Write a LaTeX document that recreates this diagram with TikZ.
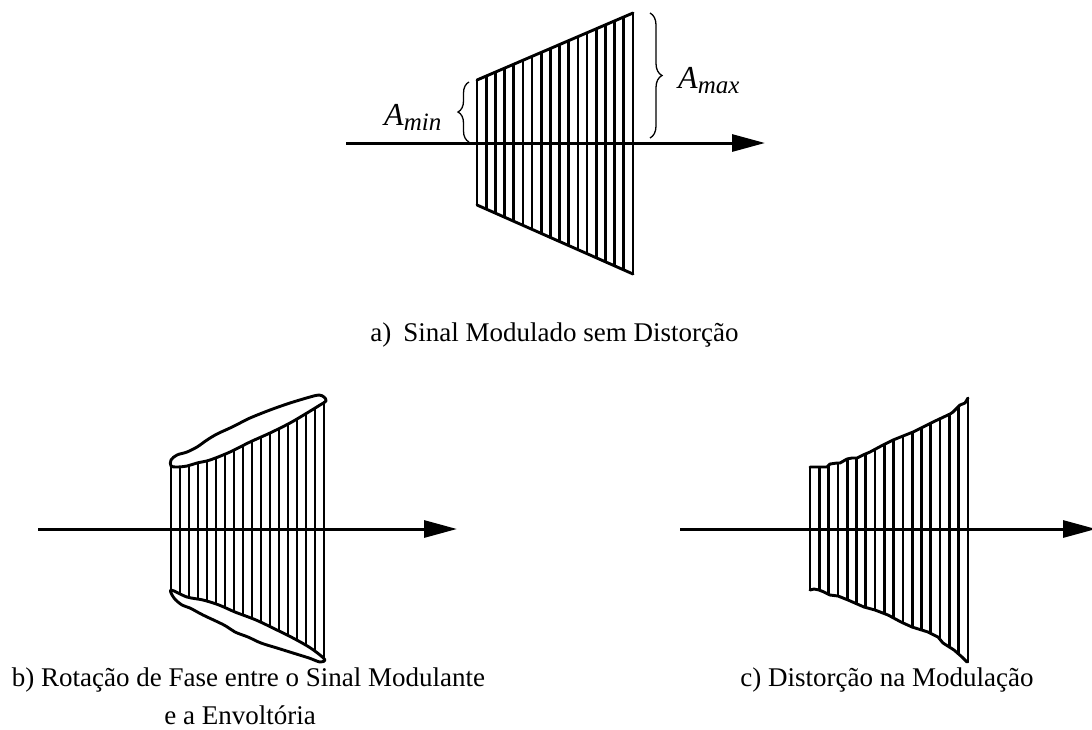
\documentclass[tikz,border=0pt]{standalone}
\usepackage{fontspec}
\setmainfont{Liberation Serif}
\usetikzlibrary{arrows.meta,decorations.pathreplacing}
\begin{document}
\begin{tikzpicture}[x=1pt,y=-1pt,
  axis/.style={line width=3pt,-{Triangle[length=33pt,width=17pt]}},
  hatch/.style={line width=2.7pt},
  edge/.style={line width=2.9pt,line join=round,line cap=round},
  brc/.style={line width=1.3pt,decorate,decoration={brace,amplitude=#1}},
  captxt/.style={font=\fontsize{27}{30}\selectfont,inner sep=0pt,anchor=base},
  lbl/.style={inner sep=0pt,anchor=base west,font=\fontsize{32}{32}\selectfont\itshape},
]
\useasboundingbox (0,0) rectangle (1092,729);

% ---------- (a) ----------
\coordinate (a0) at (346,143);
\coordinate (a1) at (765,143);
\begin{scope}
  \clip (470,83) -- (640,10) -- (640,277) -- (470,202) -- cycle;
  \foreach \i in {0,...,17} { \draw[hatch] ({477+\i*156/17},0) -- ++(0,300); }
\end{scope}
\coordinate (tl) at (477,80);
\coordinate (tr) at (633,13);
\coordinate (bl) at (477,205);
\coordinate (br) at (633,274);
\draw[edge] (tl) -- (tr);
\draw[edge] (bl) -- (br);
\draw[axis] (a0) -- (a1);

\coordinate (bminA) at (469,142);
\coordinate (bminB) at (469,82);
\draw[brc=11pt] (bminA) -- (bminB);
\coordinate (bmaxA) at (650,13);
\coordinate (bmaxB) at (650,138);
\draw[brc=12pt] (bmaxA) -- (bmaxB);

\node[lbl] (amin) at (384,125) {A\raisebox{-5pt}{\fontsize{25}{25}\selectfont min}};
\node[lbl] (amax) at (678,88) {A\raisebox{-5pt}{\fontsize{25}{25}\selectfont max}};

\node[captxt] (capa) at (554.5,341) {a)\hspace{0.45em}Sinal Modulado sem Distorção};

% ---------- (b) ----------
\coordinate (b0) at (38,529);
\coordinate (b1) at (457,529);
\begin{scope}
  \clip plot[smooth] coordinates {(165,467) (171,466) (187,466) (197,463) (210,460) (230,452) (250,442) (270,433) (290,423) (307,413) (317,407) (324,401) (330,398)}
    -- (330,662)
    -- plot[smooth] coordinates {(324,658) (309,647) (293,638) (277,630) (256,620) (235,612) (219,605) (203,600) (187,597) (171,590) (165,589)}
    -- cycle;
  \foreach \i in {0,...,17} { \draw[hatch] ({171+\i*153/17},380) -- ++(0,300); }
\end{scope}
\draw[edge] plot[smooth cycle,tension=0.55] coordinates {(171,466) (171,460) (177,455) (187,452) (197,447) (207,440) (217,434) (230,428) (240,423) (250,418) (270,410) (290,403) (310,397) (319,395) (324,397) (326,401) (320,405) (307,413) (290,423) (270,433) (250,442) (230,452) (210,460) (197,463) (187,466) (177,467)};
\draw[edge] plot[smooth cycle,tension=0.55] coordinates {(171,590) (187,597) (203,600) (219,605) (235,612) (256,620) (277,630) (293,638) (309,647) (320,655) (325,660) (320,662) (309,658) (293,653) (277,648) (261,643) (248,637) (235,632) (224,625) (203,615) (190,608) (182,605) (174,598)};
\draw[axis] (b0) -- (b1);

\node[captxt] (capb1) at (248.5,686) {b) Rotação de Fase entre o Sinal Modulante};
\node[captxt] (capb2) at (240,724) {e a Envoltória};

% ---------- (c) ----------
\coordinate (c0) at (680,529);
\coordinate (c1) at (1096,529);
\begin{scope}
  \clip (805,467) -- (810,467) -- (827,467) -- (830,464) -- (837,463) -- (840,463) -- (847,459) -- (852,458) -- (857,458) -- (863,455) -- (870,452) -- (883,445) -- (893,440) -- (903,436) -- (913,432) -- (923,427) -- (933,422) -- (950,414) -- (953,412) -- (960,405) -- (965,403) -- (968,398) -- (973,396)
    -- (973,665) -- (967,662) -- (962,657) -- (954,650) -- (943,643) -- (938,637) -- (928,632) -- (912,627) -- (901,622) -- (888,615) -- (875,610) -- (864,607) -- (848,600) -- (838,596) -- (830,595) -- (824,592) -- (819,590) -- (814,589) -- (810,590) -- (805,590) -- cycle;
  \foreach \i in {0,...,17} { \draw[hatch] ({810+\i*158/17},380) -- ++(0,300); }
\end{scope}
\draw[edge] (810,467) -- (827,467) -- (830,464) -- (837,463) -- (840,463) -- (847,459) -- (852,458) -- (857,458) -- (863,455) -- (870,452) -- (883,445) -- (893,440) -- (903,436) -- (913,432) -- (923,427) -- (933,422) -- (950,414) -- (953,412) -- (960,405) -- (965,403) -- (968,398);
\draw[edge] (810,590) -- (814,589) -- (819,590) -- (824,592) -- (830,595) -- (838,596) -- (848,600) -- (864,607) -- (875,610) -- (888,615) -- (901,622) -- (912,627) -- (928,632) -- (938,637) -- (943,643) -- (954,650) -- (962,657) -- (967,662);
\draw[axis] (c0) -- (c1);

\node[captxt] (capc) at (887,686) {c) Distorção na Modulação};
\end{tikzpicture}
\end{document}
